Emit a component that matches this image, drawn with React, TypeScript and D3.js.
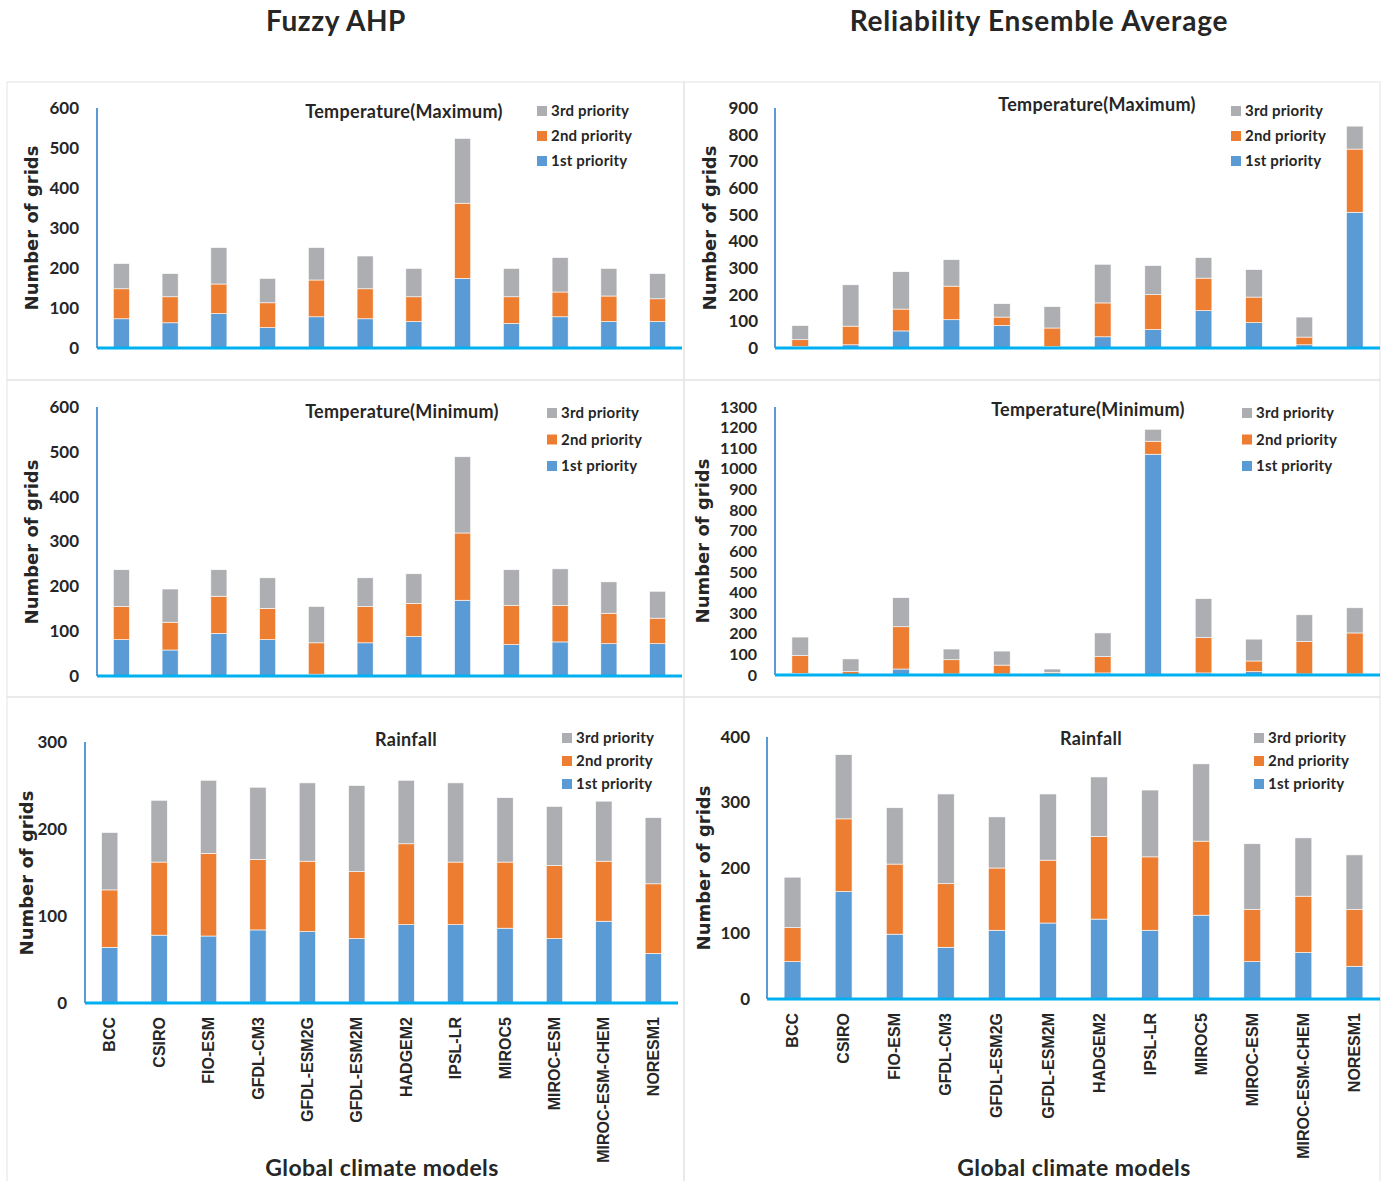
import React from "react";
import * as d3 from "d3";

// Global climate models (x categories)
const models = [
  "BCC", "CSIRO", "FIO-ESM", "GFDL-CM3", "GFDL-ESM2G", "GFDL-ESM2M",
  "HADGEM2", "IPSL-LR", "MIROC5", "MIROC-ESM", "MIROC-ESM-CHEM", "NORESM1",
];

// Fuzzy AHP - Temperature(Maximum)
const ahpTmaxFirst = [73, 63, 86, 51, 78, 73, 66, 174, 61, 78, 66, 66];
const ahpTmaxSecond = [75, 65, 74, 62, 92, 75, 62, 188, 67, 62, 64, 57];
const ahpTmaxThird = [63, 58, 91, 61, 81, 82, 71, 162, 71, 86, 69, 63];

// REA - Temperature(Maximum)
const reaTmaxFirst = [6, 12, 64, 106, 84, 5, 42, 69, 140, 95, 12, 509];
const reaTmaxSecond = [25, 70, 82, 126, 32, 70, 127, 131, 122, 96, 29, 237];
const reaTmaxThird = [53, 155, 140, 99, 50, 80, 145, 109, 77, 103, 75, 86];

// Fuzzy AHP - Temperature(Minimum)
const ahpTminFirst = [81, 58, 95, 81, 4, 74, 88, 169, 70, 76, 72, 72];
const ahpTminSecond = [74, 62, 83, 70, 70, 81, 74, 150, 87, 81, 68, 57];
const ahpTminThird = [82, 74, 59, 68, 81, 64, 66, 170, 80, 82, 70, 60];

// REA - Temperature(Minimum)
const reaTminFirst = [8, 3, 29, 5, 5, 5, 10, 1071, 10, 16, 5, 5];
const reaTminSecond = [86, 13, 205, 69, 43, 8, 79, 63, 171, 52, 157, 199];
const reaTminThird = [90, 62, 141, 52, 68, 16, 115, 58, 189, 106, 130, 122];

// Fuzzy AHP - Rainfall
const ahpRainFirst = [64, 78, 77, 84, 82, 74, 90, 90, 86, 74, 94, 57];
const ahpRainSecond = [66, 84, 95, 81, 81, 77, 93, 72, 76, 84, 69, 80];
const ahpRainThird = [66, 71, 84, 83, 90, 99, 73, 91, 74, 68, 69, 76];

// REA - Rainfall
const reaRainFirst = [57, 164, 99, 79, 105, 116, 122, 105, 128, 57, 71, 50];
const reaRainSecond = [52, 111, 107, 97, 95, 96, 126, 112, 113, 80, 86, 87];
const reaRainThird = [77, 98, 86, 137, 78, 101, 91, 102, 118, 100, 89, 83];

const legendLabels = ["3rd priority", "2nd priority", "1st priority"];
const legendLabelsTypo = ["3rd priority", "2nd prority", "1st priority"];

const colors = { first: "#5b9bd5", second: "#ed7d31", third: "#adaeb1" };
const calibri = "Lato, 'Open Sans', sans-serif";
const ink = "#262626";

type PanelProps = {
  first: number[];
  second: number[];
  third: number[];
  yMax: number;
  title: string;
  legend: string[];
  x0: number;
  x1: number;
  yTop: number;
  yBottom: number;
  tickX: number;
  tickSize: number;
  labelX: number;
  labelY: number;
  titleX: number;
  titleY: number;
  legendX: number;
  legendY: number;
  legendGap: number;
  showModels?: boolean;
};

const Panel = (p: PanelProps) => {
  const x = d3
    .scaleBand()
    .domain(models)
    .range([p.x0, p.x1])
    .paddingInner(0.67)
    .paddingOuter(0.335);
  const y = d3.scaleLinear().domain([0, p.yMax]).range([p.yBottom, p.yTop]);
  const rows = models.map((m, i) => ({
    model: m,
    first: p.first[i],
    second: p.second[i],
    third: p.third[i],
  }));
  const series = d3.stack<any>().keys(["first", "second", "third"])(rows);
  const ticks = d3.range(0, p.yMax + 1, 100);
  const legendColors = [colors.third, colors.second, colors.first];

  return (
    <g>
      {series.map((s) => (
        <g key={s.key} fill={(colors as any)[s.key]}>
          {s.map((d, i) => (
            <rect
              key={i}
              x={x(models[i])}
              y={y(d[1])}
              width={x.bandwidth()}
              height={Math.max(0, y(d[0]) - y(d[1]))}
              stroke="#ffffff"
              strokeWidth={0.6}
            />
          ))}
        </g>
      ))}
      <line x1={p.x0} x2={p.x0} y1={p.yTop} y2={p.yBottom} stroke="#5b9bd5" strokeWidth={2} />
      <line x1={p.x0} x2={p.x1} y1={p.yBottom} y2={p.yBottom} stroke="#00b0f0" strokeWidth={3} />
      {ticks.map((t) => (
        <text
          key={t}
          x={p.tickX}
          y={y(t)}
          dy="0.35em"
          textAnchor="end"
          fontFamily={calibri}
          fontWeight="bold"
          fontSize={p.tickSize}
          fill={ink}
        >
          {t}
        </text>
      ))}
      <text
        transform={`translate(${p.labelX},${p.labelY}) rotate(-90)`}
        textAnchor="middle"
        dy="0.35em"
        fontFamily="'DejaVu Sans', sans-serif"
        fontWeight="bold"
        fontSize={18}
        fill={ink}
      >
        Number of grids
      </text>
      <text
        x={p.titleX}
        y={p.titleY}
        dy="0.35em"
        textAnchor="middle"
        fontFamily={calibri}
        fontWeight="bold"
        fontSize={18}
        letterSpacing={0.3}
        fill={ink}
      >
        {p.title}
      </text>
      {p.legend.map((l, i) => (
        <g key={l} transform={`translate(${p.legendX},${p.legendY + i * p.legendGap})`}>
          <rect x={0} y={-5} width={10} height={10} fill={legendColors[i]} />
          <text
            x={14}
            dy="0.35em"
            fontFamily={calibri}
            fontWeight="bold"
            fontSize={15}
            letterSpacing={0.2}
            fill={ink}
          >
            {l}
          </text>
        </g>
      ))}
      {p.showModels &&
        models.map((m) => (
          <text
            key={m}
            transform={`translate(${(x(m) as number) + x.bandwidth() / 2},${p.yBottom + 14}) rotate(-90)`}
            textAnchor="end"
            dy="0.35em"
            fontFamily="'Liberation Sans', Arial, sans-serif"
            fontWeight="bold"
            fontSize={16}
            fill={ink}
          >
            {m}
          </text>
        ))}
    </g>
  );
};

const App = () => {
  const border = "#e3e3e3";
  return (
    <svg
      width={1381}
      height={1181}
      style={{ position: "absolute", left: 0, top: 0, background: "#fff" }}
    >
      <rect x={0} y={0} width={1381} height={1181} fill="#fff" />
      <text x={336} y={21} dy="0.35em" textAnchor="middle" fontFamily={calibri} fontWeight="bold" fontSize={28} letterSpacing={0.6} fill={ink}>
        Fuzzy AHP
      </text>
      <text x={1039} y={21} dy="0.35em" textAnchor="middle" fontFamily={calibri} fontWeight="bold" fontSize={28} letterSpacing={0.8} fill={ink}>
        Reliability Ensemble Average
      </text>

      {/* panel borders */}
      <rect x={7} y={82} width={677} height={298} fill="none" stroke={border} />
      <rect x={684} y={82} width={696} height={298} fill="none" stroke={border} />
      <rect x={7} y={380} width={677} height={317} fill="none" stroke={border} />
      <rect x={684} y={380} width={696} height={317} fill="none" stroke={border} />
      <rect x={7} y={697} width={677} height={490} fill="none" stroke={border} />
      <rect x={684} y={697} width={696} height={490} fill="none" stroke={border} />

      <Panel
        first={ahpTmaxFirst} second={ahpTmaxSecond} third={ahpTmaxThird}
        yMax={600} title="Temperature(Maximum)" legend={legendLabels}
        x0={97} x1={682} yTop={108} yBottom={348}
        tickX={79} tickSize={17} labelX={32} labelY={228}
        titleX={404} titleY={112} legendX={537} legendY={111} legendGap={25}
      />
      <Panel
        first={reaTmaxFirst} second={reaTmaxSecond} third={reaTmaxThird}
        yMax={900} title="Temperature(Maximum)" legend={legendLabels}
        x0={775} x1={1380} yTop={108} yBottom={348}
        tickX={758} tickSize={17} labelX={710} labelY={228}
        titleX={1097} titleY={105} legendX={1231} legendY={111} legendGap={25}
      />
      <Panel
        first={ahpTminFirst} second={ahpTminSecond} third={ahpTminThird}
        yMax={600} title="Temperature(Minimum)" legend={legendLabels}
        x0={97} x1={682} yTop={407} yBottom={676}
        tickX={79} tickSize={17} labelX={32} labelY={542}
        titleX={402} titleY={412} legendX={547} legendY={413} legendGap={26.5}
      />
      <Panel
        first={reaTminFirst} second={reaTminSecond} third={reaTminThird}
        yMax={1300} title="Temperature(Minimum)" legend={legendLabels}
        x0={775} x1={1380} yTop={407} yBottom={675}
        tickX={757} tickSize={16} labelX={703} labelY={541}
        titleX={1088} titleY={410} legendX={1242} legendY={413} legendGap={26.5}
      />
      <Panel
        first={ahpRainFirst} second={ahpRainSecond} third={ahpRainThird}
        yMax={300} title="Rainfall" legend={legendLabelsTypo}
        x0={85} x1={678} yTop={742} yBottom={1003}
        tickX={67} tickSize={17} labelX={27} labelY={873}
        titleX={406} titleY={740} legendX={562} legendY={738} legendGap={23}
        showModels
      />
      <Panel
        first={reaRainFirst} second={reaRainSecond} third={reaRainThird}
        yMax={400} title="Rainfall" legend={legendLabels}
        x0={767} x1={1380} yTop={737} yBottom={999}
        tickX={750} tickSize={17} labelX={704} labelY={868}
        titleX={1091} titleY={739} legendX={1254} legendY={738} legendGap={23}
        showModels
      />

      <text x={382} y={1168} dy="0.35em" textAnchor="middle" fontFamily={calibri} fontWeight="bold" fontSize={23} letterSpacing={0.4} fill={ink}>
        Global climate models
      </text>
      <text x={1074} y={1168} dy="0.35em" textAnchor="middle" fontFamily={calibri} fontWeight="bold" fontSize={23} letterSpacing={0.4} fill={ink}>
        Global climate models
      </text>
    </svg>
  );
};

export default App;
